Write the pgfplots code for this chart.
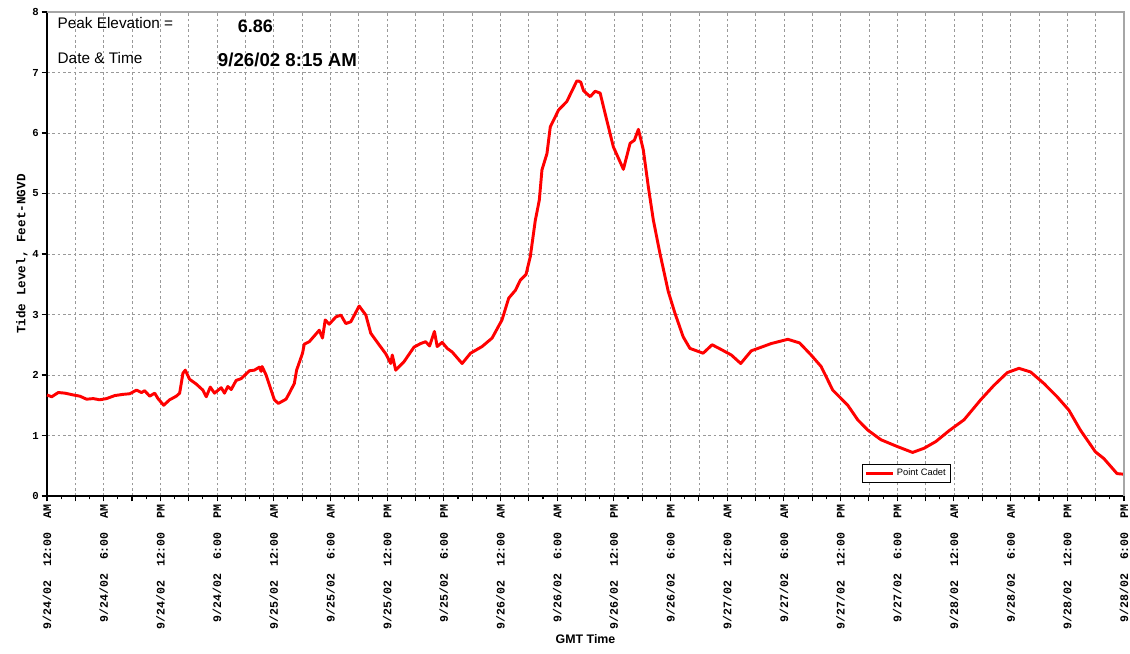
\documentclass[border=0pt]{standalone}
\usepackage{pgfplots}
\pgfplotsset{compat=1.18}
\usepackage{fontspec}
\setmainfont{Liberation Sans}
\setmonofont{Liberation Mono}
\newcommand{\tk}{\ttfamily\bfseries\fontsize{8.7}{10}\selectfont}
\begin{document}
\begin{tikzpicture}
\begin{axis}[name=a, scale only axis, width=807.75pt, height=363pt,
 xmin=0, xmax=114, ymin=0, ymax=8,
 axis lines=left, axis line style={-, black, line width=1pt},
 xtick={0,3,...,114}, minor x tick num=1,
 ytick={0,1,...,8},
 yticklabels={0,1,2,3,4,5,6,7,8},
 xticklabels={{9/24/02~~12:00~~AM},{},{9/24/02~~6:00~~AM},{},{9/24/02~~12:00~~PM},{},{9/24/02~~6:00~~PM},{},
 {9/25/02~~12:00~~AM},{},{9/25/02~~6:00~~AM},{},{9/25/02~~12:00~~PM},{},{9/25/02~~6:00~~PM},{},
 {9/26/02~~12:00~~AM},{},{9/26/02~~6:00~~AM},{},{9/26/02~~12:00~~PM},{},{9/26/02~~6:00~~PM},{},
 {9/27/02~~12:00~~AM},{},{9/27/02~~6:00~~AM},{},{9/27/02~~12:00~~PM},{},{9/27/02~~6:00~~PM},{},
 {9/28/02~~12:00~~AM},{},{9/28/02~~6:00~~AM},{},{9/28/02~~12:00~~PM},{},{9/28/02~~6:00~~PM}},
 xticklabel style={rotate=90, anchor=east, font=\tk, inner sep=2pt},
 yticklabel style={font=\ttfamily\bfseries\fontsize{8}{10}\selectfont, inner sep=2pt},
 tick align=outside, major tick length=4pt, minor tick length=2.5pt,
 tick style={black, line width=0.8pt},
 grid=major, grid style={gray!80, dash pattern=on 2pt off 2pt, line width=0.5pt},
 xlabel={GMT Time}, ylabel={Tide Level, Feet-NGVD},
 xlabel style={font=\bfseries\fontsize{9.3}{11}\selectfont, yshift=2pt},
 ylabel style={font=\ttfamily\bfseries\fontsize{9.5}{11}\selectfont, yshift=-2pt},
 clip=false,
 legend style={at={(axis cs:86.3,0.215)}, anchor=south west, draw=black, line width=0.6pt,
   font=\fontsize{7}{8}\selectfont, inner sep=1.5pt, row sep=0pt},
 legend cell align=left,
 legend image code/.code={\draw[#1, line width=2.2pt] (0pt,0pt) -- (20pt,0pt);},
]
\addplot[red, line width=2.2pt, line join=round] coordinates {
(0.00,1.67)(0.50,1.64)(1.19,1.71)(1.90,1.70)(2.78,1.67)(3.48,1.65)(4.19,1.60)(4.89,1.61)
(5.59,1.59)(6.30,1.61)(7.18,1.66)(8.05,1.68)(8.76,1.69)(9.47,1.75)(10.00,1.71)(10.34,1.74)
(10.87,1.65)(11.40,1.70)(11.75,1.61)(12.35,1.50)(12.98,1.59)(13.69,1.65)(14.04,1.70)(14.39,2.03)
(14.64,2.08)(15.09,1.93)(15.80,1.85)(16.50,1.75)(16.86,1.64)(17.28,1.80)(17.73,1.70)(18.44,1.79)
(18.79,1.70)(19.14,1.81)(19.50,1.76)(20.02,1.91)(20.55,1.94)(21.43,2.07)(21.95,2.08)(22.48,2.13)
(22.66,2.06)(22.77,2.14)(23.19,2.00)(23.72,1.75)(24.07,1.59)(24.49,1.53)(25.30,1.60)(25.65,1.70)
(26.18,1.86)(26.42,2.08)(27.05,2.36)(27.23,2.51)(27.76,2.55)(28.82,2.74)(29.16,2.61)(29.45,2.91)
(29.87,2.84)(30.58,2.96)(31.11,2.99)(31.63,2.85)(32.16,2.88)(33.04,3.14)(33.75,2.99)(34.27,2.69)
(35.15,2.50)(35.86,2.35)(36.38,2.19)(36.55,2.33)(36.91,2.08)(37.79,2.22)(38.84,2.46)(39.55,2.52)
(40.08,2.55)(40.50,2.48)(41.01,2.72)(41.30,2.47)(41.83,2.54)(42.36,2.44)(42.89,2.38)(43.94,2.19)
(44.83,2.36)(46.05,2.47)(47.11,2.61)(48.16,2.91)(48.87,3.27)(49.58,3.40)(50.11,3.57)(50.70,3.66)
(51.16,3.96)(51.69,4.56)(52.11,4.89)(52.39,5.39)(52.92,5.66)(53.27,6.10)(54.15,6.38)(55.02,6.52)
(55.55,6.69)(56.08,6.86)(56.25,6.86)(56.50,6.84)(56.79,6.70)(57.49,6.60)(58.02,6.69)(58.55,6.66)
(59.08,6.32)(59.95,5.77)(61.01,5.40)(61.72,5.83)(62.17,5.88)(62.60,6.06)(63.12,5.72)(63.65,5.11)
(64.18,4.56)(64.88,4.01)(65.76,3.38)(66.47,3.02)(67.34,2.63)(68.05,2.44)(69.45,2.36)(70.40,2.50)
(71.38,2.42)(72.44,2.33)(73.43,2.19)(74.55,2.40)(75.61,2.46)(76.66,2.52)(78.42,2.59)(79.66,2.53)
(80.88,2.33)(81.94,2.14)(83.17,1.75)(84.76,1.50)(85.81,1.26)(86.87,1.09)(88.27,0.93)(89.96,0.82)
(91.62,0.72)(92.85,0.79)(94.08,0.90)(95.49,1.08)(97.07,1.26)(98.83,1.59)(100.24,1.83)(101.65,2.04)
(102.88,2.11)(104.11,2.05)(105.52,1.86)(106.92,1.64)(108.16,1.42)(109.38,1.09)(110.97,0.73)
(111.86,0.62)(113.26,0.37)(114.00,0.36)
};
\addlegendentry{Point Cadet}
\draw[gray!70, line width=0.8pt] (rel axis cs:0,1) -- (rel axis cs:1,1) -- (rel axis cs:1,0);
\node[anchor=west, font=\fontsize{11.5}{13}\selectfont] at (axis cs:0.63,7.82) {Peak Elevation =};
\node[anchor=west, font=\fontsize{11.5}{13}\selectfont] at (axis cs:0.63,7.24) {Date \& Time};
\node[font=\bfseries\fontsize{13.5}{15}\selectfont] at (axis cs:22.06,7.77) {6.86};
\node[anchor=west, font=\bfseries\fontsize{14}{16}\selectfont] at (axis cs:17.6,7.21) {9/26/02 8:15 AM};
\end{axis}
\pgfresetboundingbox
\path ([shift={(-35.25pt,-118.5pt)}]a.south west) rectangle ([shift={(4.5pt,9pt)}]a.north east);
\end{tikzpicture}
\end{document}
